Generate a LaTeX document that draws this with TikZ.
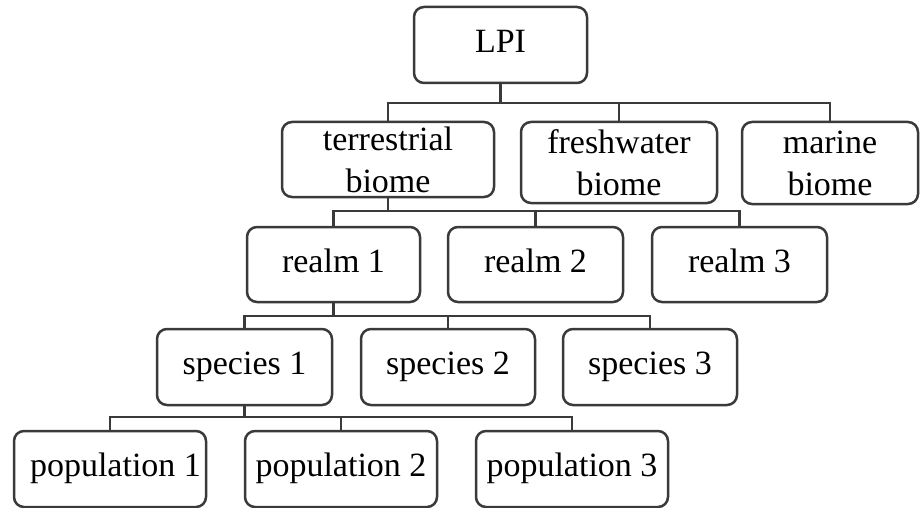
\documentclass[tikz,border=0pt]{standalone}
\usepackage{fontspec}
\setmainfont{Liberation Serif}
\definecolor{edge}{HTML}{3A3A3A}
\begin{document}
\begin{tikzpicture}[x=1pt,y=-1pt,
  box/.style={draw=edge,line width=2.5pt,rounded corners=10pt,inner sep=0pt,
    align=center,font=\fontsize{34}{42}\selectfont,text=black},
  one/.style={box,text depth=8pt},
  link/.style={draw=edge,line width=2.3pt}]
\useasboundingbox (0,0) rectangle (920,508);
\clip (0,0) rectangle (920,508);
% level 0
\node[one,minimum width=173pt,minimum height=76pt] (lpi) at (500.5,45) {LPI};
% level 1
\node[box,minimum width=212pt,minimum height=75pt] (terr) at (388,159.5) {terrestrial\\biome};
\node[box,minimum width=196pt,minimum height=81pt] (fresh) at (619,162.5) {freshwater\\biome};
\node[box,minimum width=176pt,minimum height=82pt] (marine) at (830,163) {marine\\biome};
% level 2
\node[one,minimum width=173pt,minimum height=75pt] (r1) at (333.5,264.5) {realm 1};
\node[one,minimum width=175pt,minimum height=75pt] (r2) at (535.5,264.5) {realm 2};
\node[one,minimum width=175pt,minimum height=75pt] (r3) at (739.5,264.5) {realm 3};
% level 3
\node[one,minimum width=175pt,minimum height=76pt] (s1) at (244.5,367) {species 1};
\node[one,minimum width=174pt,minimum height=76pt] (s2) at (448,367) {species 2};
\node[one,minimum width=174pt,minimum height=76pt] (s3) at (650,367) {species 3};
% level 4
\node[one,minimum width=192pt,minimum height=76pt] (p1) at (110,469) {\hspace*{11pt}population 1};
\node[one,minimum width=192pt,minimum height=76pt] (p2) at (341,469) {population 2};
\node[one,minimum width=192pt,minimum height=76pt] (p3) at (572,469) {population 3};
% buses
\coordinate (b1) at (0,103);
\coordinate (b2) at (0,211);
\coordinate (b3) at (0,316);
\coordinate (b4) at (0,417);
% connectors level 0 -> 1
\draw[link] (lpi.south) -- (lpi.south |- b1);
\draw[link] (terr.north) -- (terr.north |- b1) -- (marine.north |- b1) -- (marine.north);
\draw[link] (fresh.north) -- (fresh.north |- b1);
% terrestrial -> realms
\draw[link] (terr.south) -- (terr.south |- b2);
\draw[link] (r1.north) -- (r1.north |- b2) -- (r3.north |- b2) -- (r3.north);
\draw[link] (r2.north) -- (r2.north |- b2);
% realm 1 -> species
\draw[link] (r1.south) -- (r1.south |- b3);
\draw[link] (s1.north) -- (s1.north |- b3) -- (s3.north |- b3) -- (s3.north);
\draw[link] (s2.north) -- (s2.north |- b3);
% species 1 -> populations
\draw[link] (s1.south) -- (s1.south |- b4);
\draw[link] (p1.north) -- (p1.north |- b4) -- (p3.north |- b4) -- (p3.north);
\draw[link] (p2.north) -- (p2.north |- b4);
\end{tikzpicture}
\end{document}
